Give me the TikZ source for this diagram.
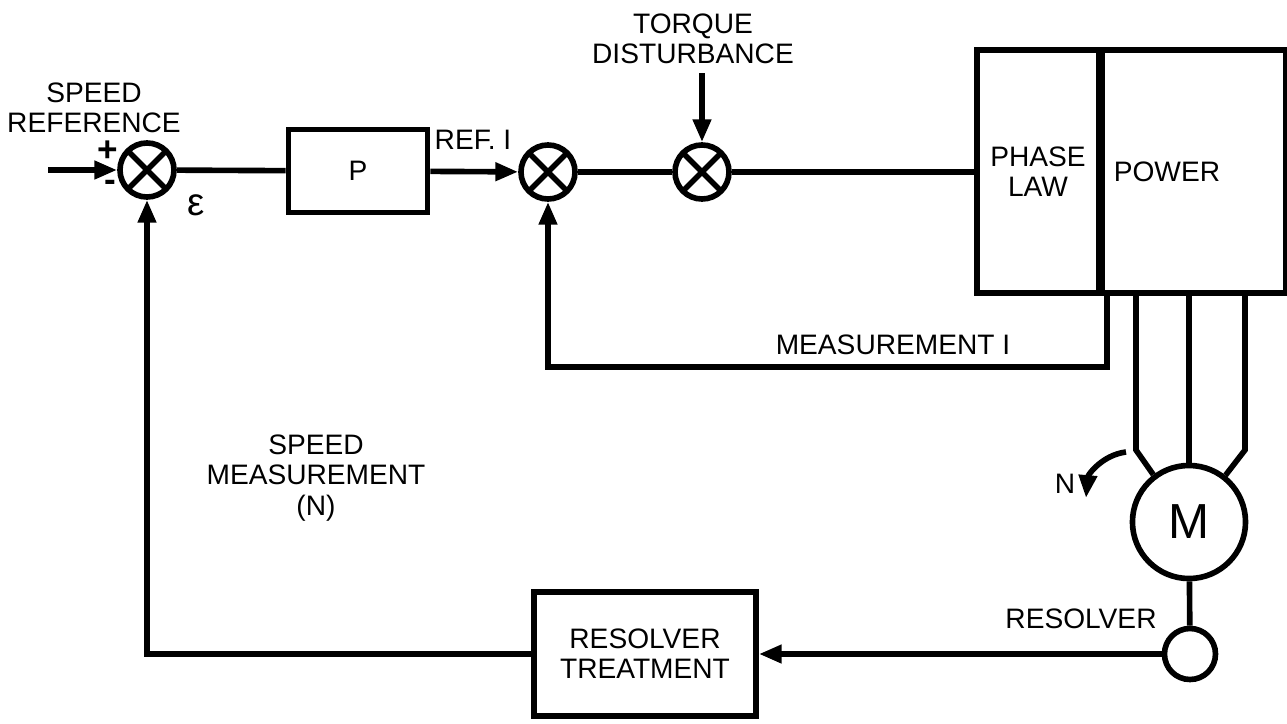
\documentclass[tikz,border=0pt]{standalone}
\usepackage{fontspec}
\setmainfont{Liberation Sans}
\usetikzlibrary{positioning,arrows.meta}
\newcommand{\diagfont}{\fontsize{8}{8.6}\selectfont}

\begin{document}
\begin{tikzpicture}[
    x=0.01cm, y=0.01cm, line width=1.6pt,
    sumjunc/.style={draw, circle, minimum size=0.54cm, inner sep=0pt,
      path picture={\draw[line width=1.6pt]
        (path picture bounding box.north west) -- (path picture bounding box.south east)
        (path picture bounding box.north east) -- (path picture bounding box.south west);}},
    ctrlblock/.style={draw, rectangle, align=center, font=\diagfont, inner sep=0pt},
    machine/.style={draw, circle, inner sep=0pt, font=\fontsize{14}{14}\selectfont},
    sigtext/.style={align=center, font=\diagfont, inner sep=0pt},
    signtext/.style={inner sep=0pt, font=\fontsize{10}{10}\selectfont\bfseries},
    flowarrow/.style={-{Triangle[length=6.5pt,width=5pt]}}
]
  \useasboundingbox (0,0) rectangle (1287,-724);

  % Nodes
  \node (sum1) [sumjunc] at (147,-170) {};
  \node (pblk) [ctrlblock, minimum width=1.39cm, minimum height=0.83cm] at (358,-171) {P};
  \node (sum2) [sumjunc] at (548,-172) {};
  \node (sum3) [sumjunc] at (702,-172) {};
  \node (phase) [ctrlblock, minimum width=1.22cm, minimum height=2.43cm] at (1038,-171.5) {PHASE\\LAW};
  \node (power) [ctrlblock, minimum width=1.84cm, minimum height=2.43cm, text width=1.60cm,
    inner xsep=0.12cm, align=left, anchor=west] at (1099,-171.5) {POWER};
  \node (motor) [machine, minimum size=1.13cm] at (1189,-522) {M};
  \node (resolv) [machine, minimum size=0.51cm] at (1190,-654) {};
  \node (rtreat) [ctrlblock, minimum width=2.22cm, minimum height=1.24cm] at (645,-654) {RESOLVER\\TREATMENT};

  \coordinate (spdin) at (48,-170);
  \coordinate (tqin) at (702,-73);
  \coordinate (mtap) at (1107,-293);
  \coordinate (wa) at (1136,-295);
  \coordinate (wb) at (1189,-295);
  \coordinate (wc) at (1245,-295);
  \coordinate (nstart) at (1126,-452);
  \coordinate (nend) at (1086,-498);

  % Labels
  \node [sigtext] at (94,-108) {SPEED\\REFERENCE};
  \node [signtext] at (108,-151) {+};
  \node [signtext] at (110,-186) {-};
  \node [sigtext, font=\fontsize{11}{11}\selectfont] at (196,-205) {ε};
  \node [sigtext] at (473,-140) {REF. I};
  \node [sigtext] at (693,-39) {TORQUE\\DISTURBANCE};
  \node [sigtext] at (893,-345) {MEASUREMENT I};
  \node [sigtext] at (316,-478) {SPEED\\MEASUREMENT\\(N)};
  \node [sigtext] at (1065,-484) {N};
  \node [sigtext] at (1081,-619) {RESOLVER};

  % Arrows
  \draw [flowarrow] (spdin) -- (sum1);
  \draw (sum1) -- (pblk);
  \draw [flowarrow] (pblk) -- (sum2);
  \draw (sum2) -- (sum3);
  \draw [flowarrow] (tqin) -- (sum3);
  \draw (sum3) -- (sum3 -| phase.west);
  \draw [flowarrow] (mtap) |- (548,-367) -- (sum2);
  \draw (wa) -- (1136,-450) -- (motor.127);
  \draw (wb) -- (motor);
  \draw (wc) -- (1245,-450) -- (motor.52);
  \draw [flowarrow] (nstart) .. controls (1102,-455) and (1088,-475) .. (nend);
  \draw (motor) -- (resolv);
  \draw [flowarrow] (resolv) -- (rtreat);
  \draw [flowarrow] (rtreat) -| (sum1);
\end{tikzpicture}
\end{document}
